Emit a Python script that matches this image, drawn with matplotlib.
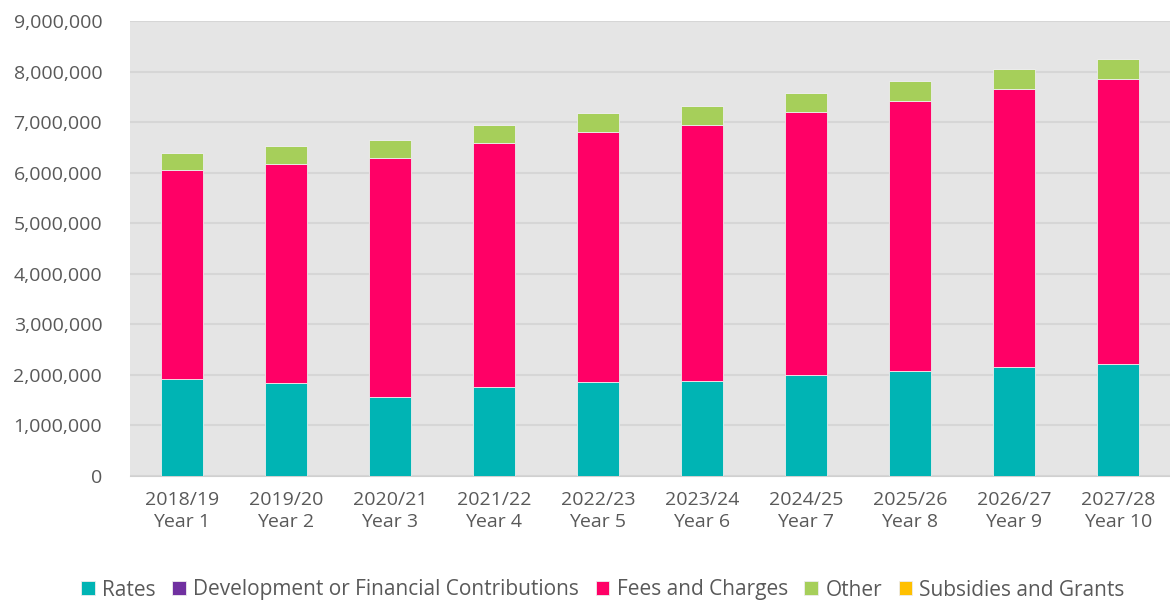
import numpy as np
import matplotlib.pyplot as plt
from matplotlib.ticker import FuncFormatter

plt.rcParams['font.family'] = ['Open Sans', 'DejaVu Sans']

years = ['2018/19', '2019/20', '2020/21', '2021/22', '2022/23',
         '2023/24', '2024/25', '2025/26', '2026/27', '2027/28']
year_nums = ['Year 1', 'Year 2', 'Year 3', 'Year 4', 'Year 5',
             'Year 6', 'Year 7', 'Year 8', 'Year 9', 'Year 10']

rates = np.array([1915000, 1830000, 1565000, 1756000, 1850000,
                  1875000, 1994000, 2073000, 2153000, 2212000])
dev_contrib = np.array([0, 0, 0, 0, 0, 0, 0, 0, 0, 0])
fees = np.array([4135000, 4340000, 4725000, 4834000, 4960000,
                 5075000, 5202000, 5353000, 5497000, 5643000])
other = np.array([340000, 360000, 360000, 350000, 370000,
                  370000, 384000, 389000, 400000, 395000])
subsidies = np.array([0, 0, 0, 0, 0, 0, 0, 0, 0, 0])

series = [
    ('Rates', rates, '#00B4B4'),
    ('Development or Financial Contributions', dev_contrib, '#7030A0'),
    ('Fees and Charges', fees, '#FF0066'),
    ('Other', other, '#A6CF5A'),
    ('Subsidies and Grants', subsidies, '#FFC000'),
]

fig = plt.figure(figsize=(11.7, 6.01), dpi=100)
ax = fig.add_axes([130 / 1170, 1 - 476 / 601, 1040 / 1170, 455 / 601])
ax.set_facecolor('#E5E5E5')

x = np.arange(len(years))
bottom = np.zeros(len(years))
handles = []
for name, vals, col in series:
    h = ax.bar(x, vals, width=0.4, bottom=bottom, color=col,
               edgecolor='#EDEDED', linewidth=0.6, label=name, zorder=3)
    handles.append(h)
    bottom = bottom + vals

ax.set_ylim(0, 9000000)
ax.set_xlim(-0.5, len(years) - 0.5)
ax.set_yticks(np.arange(0, 9000001, 1000000))
ax.yaxis.set_major_formatter(FuncFormatter(lambda v, p: f'{int(v):,}'))
ax.set_xticks(x)
ax.set_xticklabels([f'{a}\n{b}' for a, b in zip(years, year_nums)], linespacing=1.3)

ax.grid(axis='y', color='#D6D6D6', linewidth=1.5, zorder=0)
for s in ['top', 'right', 'left']:
    ax.spines[s].set_visible(False)
ax.spines['bottom'].set_color('#D0D0D0')
ax.tick_params(axis='both', length=0, labelsize=14, labelcolor='#595959')
ax.tick_params(axis='y', pad=20)
ax.tick_params(axis='x', pad=11)

leg = fig.legend(handles=handles, loc='center',
                 bbox_to_anchor=(0.5 + 18 / 1170, 1 - 590 / 601),
                 ncol=5, frameon=False, fontsize=15, handlelength=0.65,
                 handleheight=0.65, handletextpad=0.35, columnspacing=0.8)
for t in leg.get_texts():
    t.set_color('#595959')

fig.savefig('out.png', dpi=100)
